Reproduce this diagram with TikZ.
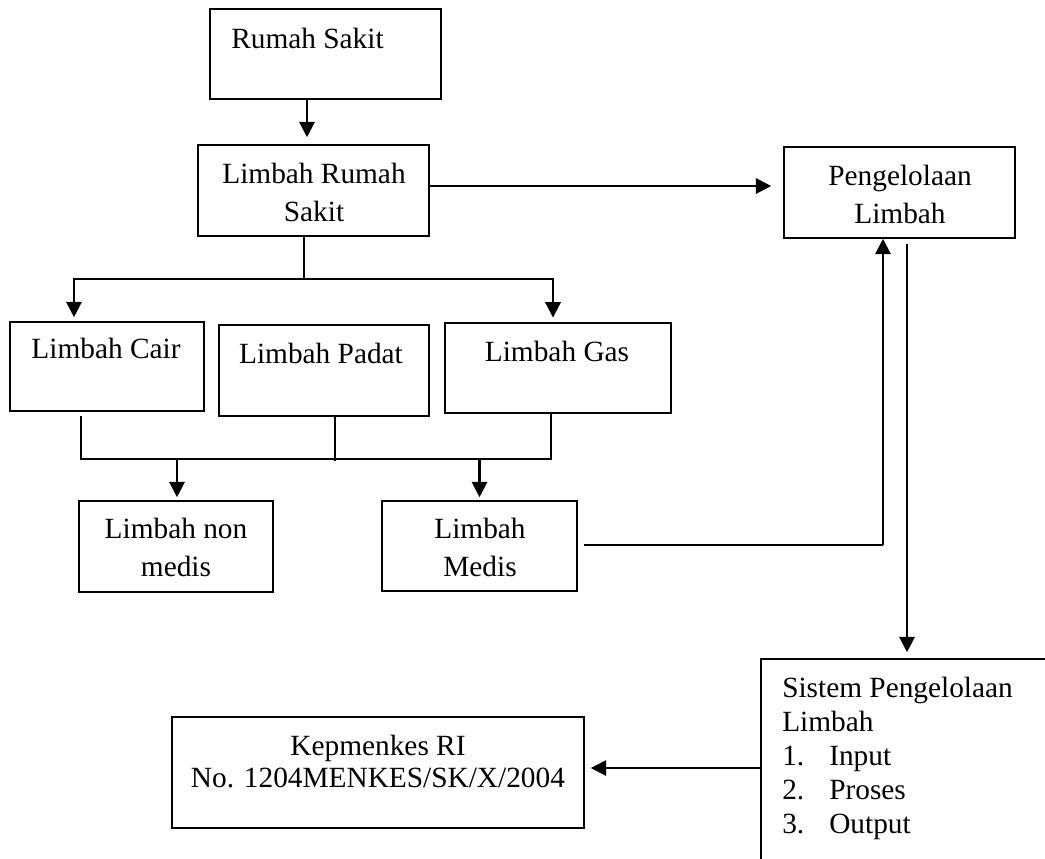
\documentclass[tikz,border=0pt]{standalone}
\usepackage{fontspec}
\setmainfont{Liberation Serif}
\usetikzlibrary{arrows.meta,calc}
\begin{document}
\begin{tikzpicture}[x=0.75pt,y=-0.75pt,
  box/.style={draw, line width=1.2pt, rectangle, inner sep=0pt},
  txt/.style={inner sep=0pt, font=\fontsize{22pt}{28.5pt}\selectfont},
  con/.style={line width=1pt},
  arr/.style={line width=1.6pt, -{Triangle[length=11.5pt,width=11.5pt]}},
]
\useasboundingbox (0,0) rectangle (1045,858);
\clip (0,0) rectangle (1045,858);

% boxes
\node[box, minimum width=173.25pt, minimum height=67.5pt]  (rs)  at (325.5,54) {};
\node[box, minimum width=173.25pt, minimum height=68.25pt] (lrs) at (313.5,190.5) {};
\node[box, minimum width=173.25pt, minimum height=68.25pt] (pl)  at (899.5,192.5) {};
\node[box, minimum width=145.5pt,  minimum height=66.75pt] (cair)  at (107,366.5) {};
\node[box, minimum width=157.5pt,  minimum height=68.25pt] (padat) at (324,370.5) {};
\node[box, minimum width=169.5pt,  minimum height=67.5pt]  (gas)   at (558,368) {};
\node[box, minimum width=145.5pt,  minimum height=68.25pt] (nonmed) at (176,546.5) {};
\node[box, minimum width=146.25pt, minimum height=67.5pt]  (medis)  at (479.5,546) {};
\node[box, minimum width=309pt,    minimum height=83.25pt] (kep) at (378,772.5) {};
\node[box, minimum width=231.75pt, minimum height=165.75pt] (sis) at (915.5,769.5) {};

% texts
\node[txt, anchor=base west] (rst) at (231,48) {Rumah Sakit};
\node[txt, anchor=north, align=center] (lrst) at (314,163) {Limbah Rumah\\Sakit};
\node[txt, anchor=north, align=center] (plt) at (900,165) {Pengelolaan\\Limbah};
\node[txt, anchor=base] (cairt) at (106,358) {Limbah Cair};
\node[txt, anchor=base] (padatt) at (321,363) {Limbah Padat};
\node[txt, anchor=base] (gast) at (557,361) {Limbah Gas};
\node[txt, anchor=north, align=center] (nonmedt) at (176,518) {Limbah non\\medis};
\node[txt, anchor=north, align=center] (medist) at (480,518) {Limbah\\Medis};
\node[txt, anchor=north, align=center, font=\fontsize{22pt}{24pt}\selectfont] (kept) at (378,735) {Kepmenkes RI\\No. 1204MENKES/SK/X/2004};
\node[txt, anchor=north west, align=left, font=\fontsize{22pt}{25.5pt}\selectfont] (sist) at (782,677)
  {Sistem Pengelolaan\\Limbah\\\makebox[35.25pt][l]{1.}Input\\\makebox[35.25pt][l]{2.}Proses\\\makebox[35.25pt][l]{3.}Output};

% helper coordinates
\coordinate (j1) at (304,279);
\coordinate (j1l) at (74,279);
\coordinate (j1r) at (553,279);
\coordinate (m1) at (81,459);
\coordinate (m2) at (551,459);
\coordinate (m3) at (335,459);
\coordinate (c1) at (883,545);

% connectors
\draw[arr, shorten >=5.25pt] ([xshift=-13.875pt]rs.south) -- ([xshift=-13.875pt]rs.south |- lrs.north);
\draw[arr, shorten >=9pt] ([yshift=3.375pt]lrs.east) -- ([yshift=3.375pt]lrs.east -| pl.west);
\draw[con] (lrs.south -| j1) -- (j1);
\draw[arr, shorten >=3pt] (j1) -- (j1l) -- (j1l |- cair.north);
\draw[arr, shorten >=3.5pt] (j1) -- (j1r) -- (j1r |- gas.north);
\draw[con, shorten <=3pt] (cair.south -| m1) -- (m1) -- (m2) -- (gas.south -| m2);
\draw[con] (padat.south -| m3) -- ([yshift=-1.5pt]m3);
\draw[arr, shorten >=2.25pt] ($(nonmed.north |- m1)+(1,0)$) -- ($(nonmed.north)+(1,0)$);
\draw[arr, shorten >=2.25pt] (medis.north |- m2) -- (medis.north);
\draw[con, shorten <=4.5pt] (medis.east |- c1) -- (c1);
\draw[arr] (c1) -- (c1 |- pl.south);
\draw[arr, shorten <=3.75pt, shorten >=4.5pt] ([xshift=5.625pt]pl.south) -- ([xshift=5.625pt]pl.south |- sis.north);
\draw[arr, shorten >=4.5pt] ([yshift=3.375pt]kep.east -| sis.west) -- ([yshift=3.375pt]kep.east);
\end{tikzpicture}
\end{document}
